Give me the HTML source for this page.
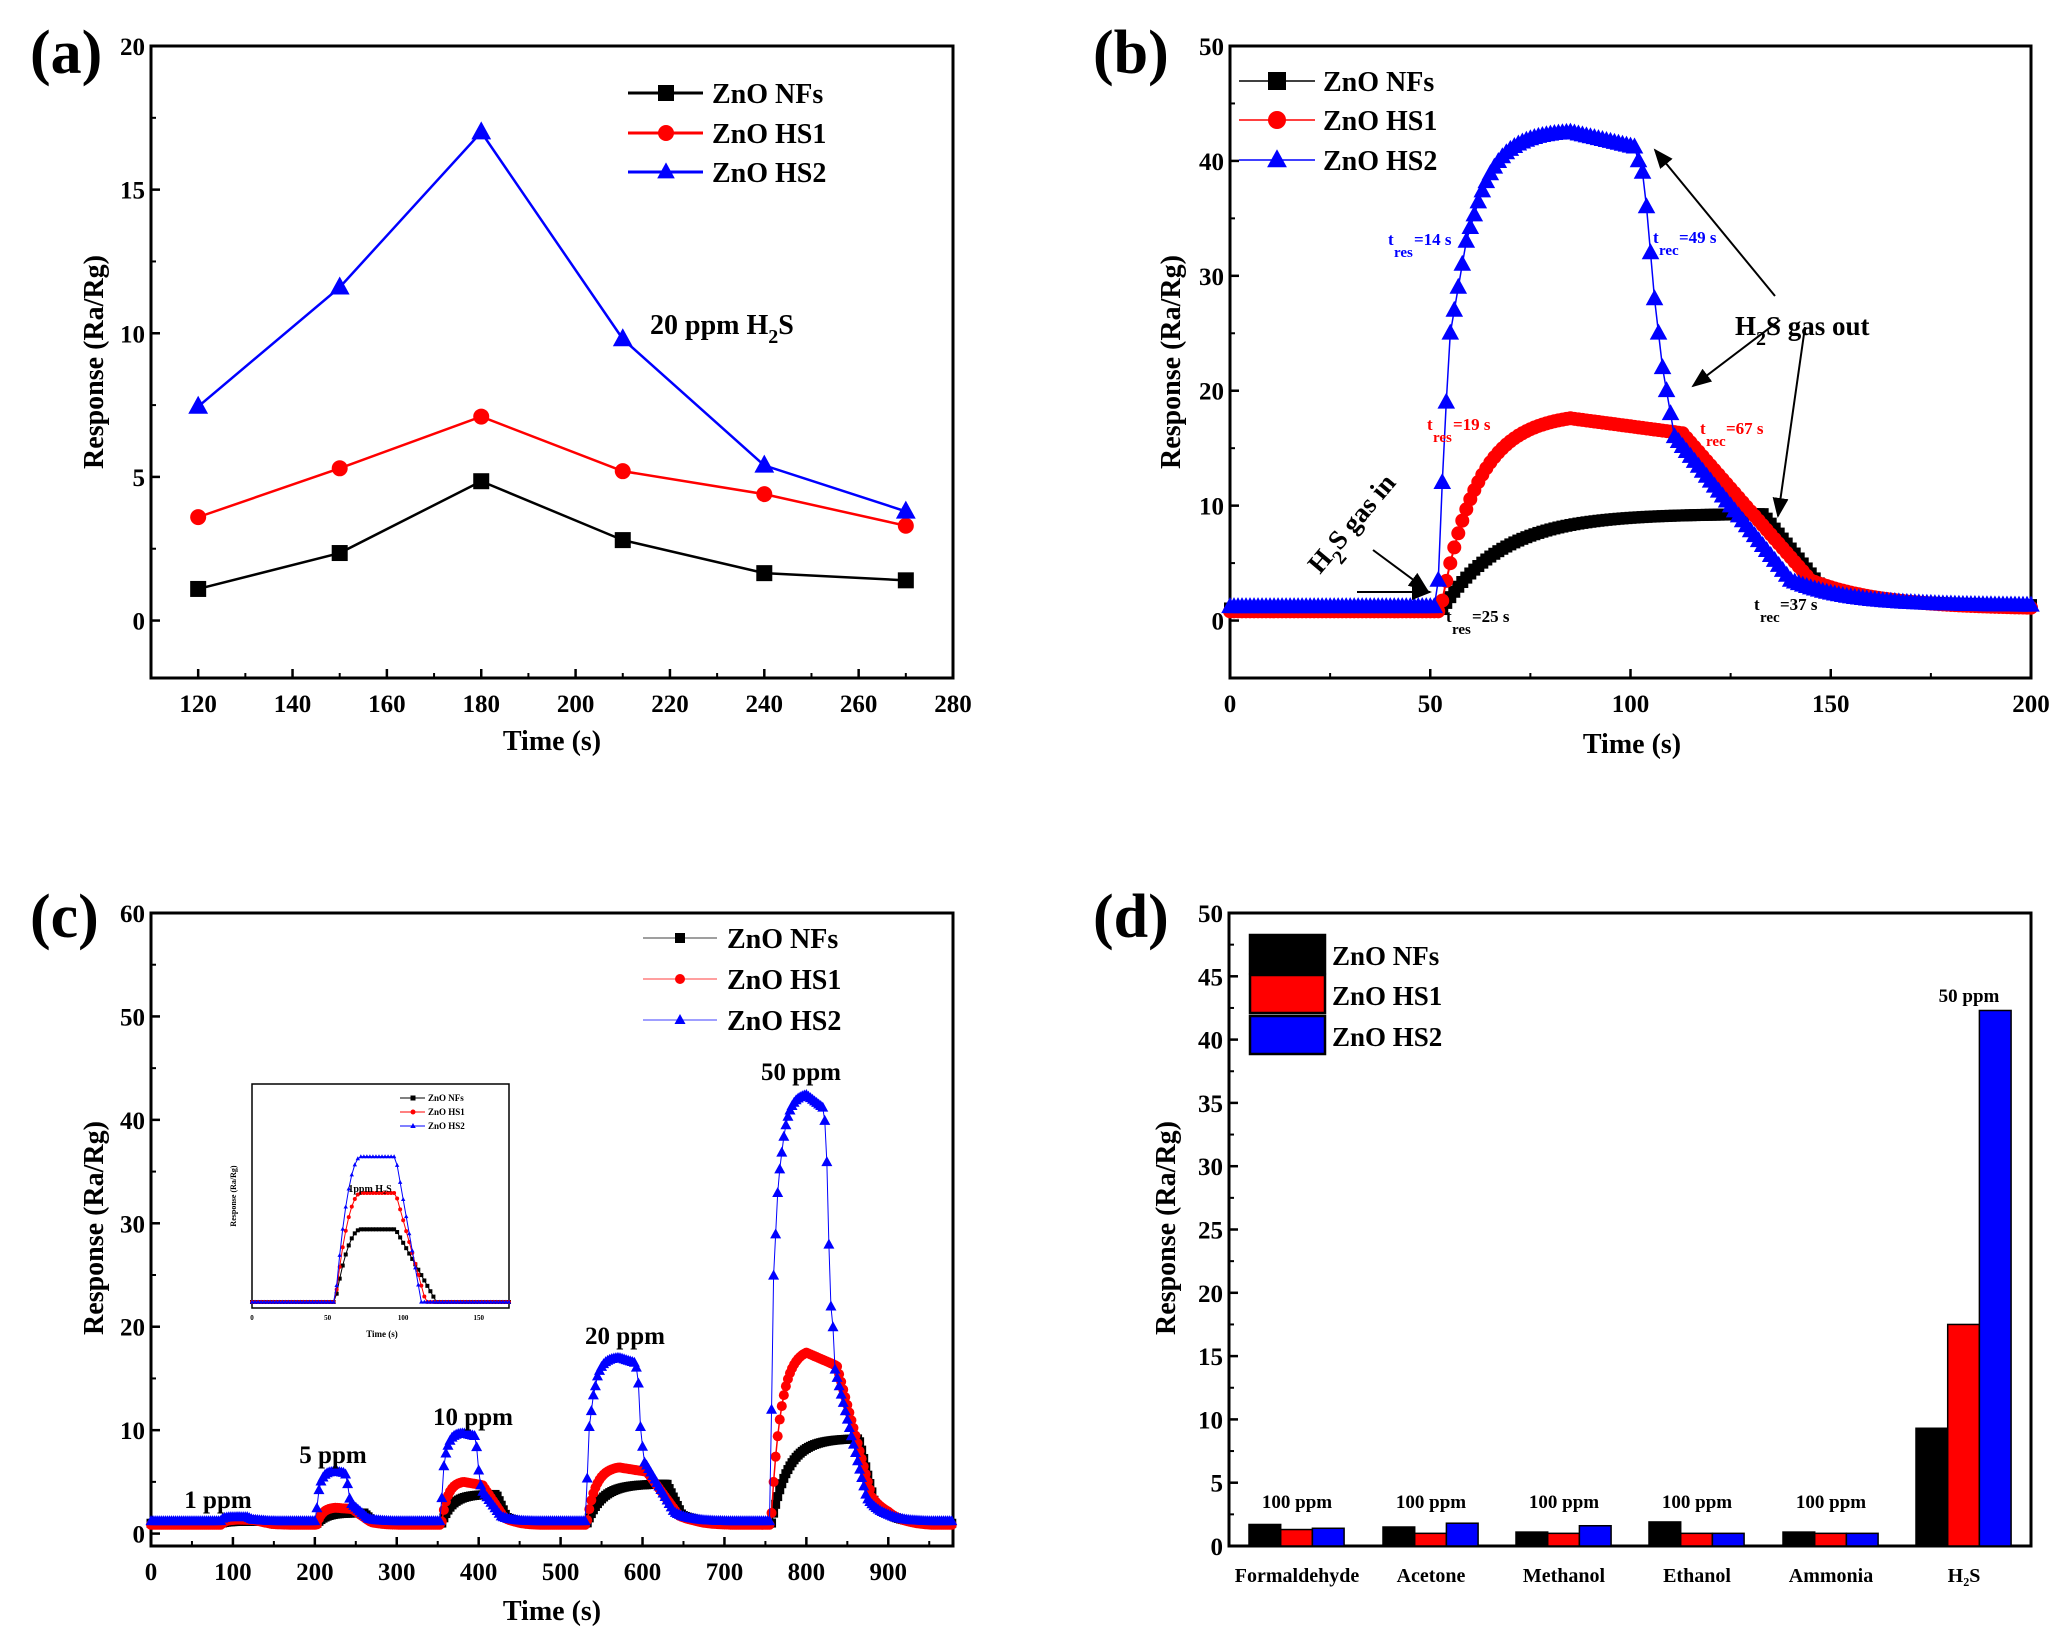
<!DOCTYPE html>
<html><head><meta charset="utf-8"><style>
html,body{margin:0;padding:0;background:#fff}
svg text{font-family:"Liberation Serif",serif;font-weight:bold}
</style></head><body>
<svg id="s" width="2064" height="1637" xmlns="http://www.w3.org/2000/svg"></svg>
<script>
var S=document.getElementById('s'),NS='http://www.w3.org/2000/svg';
function el(t,a,txt){var e=document.createElementNS(NS,t);for(var k in a)e.setAttribute(k,a[k]);if(txt!=null)e.textContent=txt;S.appendChild(e);return e;}
function T(x,y,s,size,anchor,fill,extra){var a={x:x,y:y,'font-size':size,'text-anchor':anchor||'start',fill:fill||'#000'};for(var k in extra)a[k]=extra[k];return el('text',a,s);}
function TH(x,y,html,size,anchor,fill,extra){var e=T(x,y,'',size,anchor,fill,extra);e.innerHTML=html;return e;}
function axes(L,R,Tp,B,x0,x1,y0,y1,xt,yt,xminor,yminor,xl){
 var sx=function(v){return L+(v-x0)/(x1-x0)*(R-L)},sy=function(v){return B-(v-y0)/(y1-y0)*(B-Tp)};
 el('rect',{x:L,y:Tp,width:R-L,height:B-Tp,fill:'none',stroke:'#000','stroke-width':3});
 xt.forEach(function(v){var x=sx(v);el('line',{x1:x,y1:B,x2:x,y2:B-9,stroke:'#000','stroke-width':2.5});T(x,B+34,xl?xl(v):v,25,'middle');});
 xminor.forEach(function(v){var x=sx(v);el('line',{x1:x,y1:B,x2:x,y2:B-5,stroke:'#000','stroke-width':2});});
 yt.forEach(function(v){var y=sy(v);el('line',{x1:L,y1:y,x2:L+9,y2:y,stroke:'#000','stroke-width':2.5});T(L-6,y+9,v,25,'end');});
 yminor.forEach(function(v){var y=sy(v);el('line',{x1:L,y1:y,x2:L+5,y2:y,stroke:'#000','stroke-width':2});});
 return [sx,sy];}
function rng(a,b,st){var r=[];for(var v=a;v<=b+1e-9;v+=st)r.push(+v.toFixed(4));return r;}
function mark(type,x,y,r,c){
 if(type=='s')el('rect',{x:x-r,y:y-r,width:2*r,height:2*r,fill:c});
 else if(type=='c')el('circle',{cx:x,cy:y,r:r,fill:c});
 else el('polygon',{points:(x)+','+(y-r*1.2)+' '+(x-r*1.1)+','+(y+r*0.8)+' '+(x+r*1.1)+','+(y+r*0.8),fill:c});}
function series(pts,sx,sy,c,type,r,lw){
 el('polyline',{points:pts.map(function(p){return sx(p[0])+','+sy(p[1])}).join(' '),fill:'none',stroke:c,'stroke-width':lw||2.5});
 pts.forEach(function(p){mark(type,sx(p[0]),sy(p[1]),r,c)});}
function ylab(x,y,s){T(x,y,s,28,'middle','#000',{transform:'rotate(-90 '+x+' '+y+')'});}

// ===== (a)
T(30,73,'(a)',62);
var A=axes(151,953,46,678,110,280,-2,20,rng(120,280,20),[0,5,10,15,20],rng(130,270,20),rng(2.5,17.5,5));
ylab(103,362,'Response (Ra/Rg)');T(552,750,'Time (s)',28,'middle');
var xs=[120,150,180,210,240,270];
series(xs.map(function(x,i){return[x,[1.1,2.35,4.85,2.8,1.65,1.4][i]]}),A[0],A[1],'#000','s',8);
series(xs.map(function(x,i){return[x,[3.6,5.3,7.1,5.2,4.4,3.3][i]]}),A[0],A[1],'#f00','c',8);
series(xs.map(function(x,i){return[x,[7.45,11.6,17.0,9.8,5.4,3.8][i]]}),A[0],A[1],'#00f','t',9);
[[93,'#000','s','ZnO NFs'],[133,'#f00','c','ZnO HS1'],[172,'#00f','t','ZnO HS2']].forEach(function(l){el('line',{x1:628,y1:l[0],x2:703,y2:l[0],stroke:l[1],'stroke-width':3});mark(l[2],666,l[0],8,l[1]);T(712,l[0]+10,l[3],28);});
TH(650,334,'20 ppm H<tspan dy="9" font-size="20">2</tspan><tspan dy="-9">S</tspan>',28);

// ===== (b) data
function nf(t){if(t<53)return 1.05;if(t<=133)return 1+8.3*(1-Math.exp(-(t-53)/15));if(t<=148)return 9.3-(t-133)/15*6.5;return 1.3+1.5*Math.exp(-(t-148)/15);}
function h1(t){if(t<52.5)return 0.8;if(t<=85)return 0.8+16.8*(1-Math.exp(-(t-52.5)/9))/(1-Math.exp(-32.5/9));if(t<=113)return 17.6-(t-85)/28*1.3;if(t<=145)return 16.3-(t-113)/32*12.8;return 1.0+2.5*Math.exp(-(t-145)/18);}
function h2(t){if(t<52)return 1.2;var up=[3.5,12,19,25,27,29,31,33,34.2,35.3];if(t<62)return up[Math.round(t)-52];
 if(t<=85)return 35.3+7.2*(1-Math.exp(-(t-61)/6))/(1-Math.exp(-24/6));if(t<=101)return 42.5-(t-85)/16*1.3;
 var dn=[41.2,40,39,36,32,28,25,22,20,18,16];if(t<=111)return dn[Math.round(t)-101];if(t<=140)return 16-(t-111)/29*12.5;return 1.3+2.2*Math.exp(-(t-140)/14);}
var B=axes(1230,2031,46,678,0,200,-5,50,[0,50,100,150,200],[0,10,20,30,40,50],[25,75,125,175],[-5,5,15,25,35,45]);
ylab(1180,362,'Response (Ra/Rg)');T(1632,753,'Time (s)',28,'middle');
T(1093,73,'(b)',62);
var p0=[],p1=[],p2=[];for(var t=0;t<=200;t+=1){p0.push([t,nf(t)]);p1.push([t,h1(t)]);p2.push([t,h2(t)]);}
series(p0,B[0],B[1],'#000','s',6,2);series(p1,B[0],B[1],'#f00','c',7,2);series(p2,B[0],B[1],'#00f','t',8,1.5);
[[81,'#000','s','ZnO NFs'],[120,'#f00','c','ZnO HS1'],[160,'#00f','t','ZnO HS2']].forEach(function(l){el('line',{x1:1239,y1:l[0],x2:1315,y2:l[0],stroke:l[1],'stroke-width':1.5});mark(l[2],1277,l[0],9,l[1]);T(1323,l[0]+10,l[3],28);});
function sub(x,y,a,b,c,col){T(x,y,a,17,'start',col);T(x+6,y+12,b,15,'start',col);T(x+26,y,c,17,'start',col);}
sub(1388,245,'t','res','=14 s','#00f');sub(1653,243,'t','rec','=49 s','#00f');
sub(1427,430,'t','res','=19 s','#f00');sub(1700,434,'t','rec','=67 s','#f00');
sub(1446,622,'t','res','=25 s','#000');sub(1754,610,'t','rec','=37 s','#000');
TH(1735,335,'H<tspan dy="10" font-size="20">2</tspan><tspan dy="-10">S gas out</tspan>',27);
TH(1320,575,'H<tspan dy="10" font-size="20">2</tspan><tspan dy="-10">S gas in</tspan>',27,'start','#000',{transform:'rotate(-50 1320 575)'});
el('defs',{}).innerHTML='<marker id="ar" markerWidth="10" markerHeight="8" refX="9" refY="4" orient="auto"><path d="M0,0L10,4L0,8z" fill="#000"/></marker>';
[[1775,296,1655,150],[1780,320,1693,386],[1805,327,1778,516],[1373,550,1427,590],[1357,592,1430,592]].forEach(function(a){el('line',{x1:a[0],y1:a[1],x2:a[2],y2:a[3],stroke:'#000','stroke-width':2,'marker-end':'url(#ar)'});});

// ===== (c)
T(30,937,'(c)',62);
var C=axes(151,953,913,1546,0,979,-1.2,60,rng(0,900,100),[0,10,20,30,40,50,60],rng(50,950,100),rng(5,55,10));
ylab(103,1228,'Response (Ra/Rg)');T(552,1620,'Time (s)',28,'middle');
var fns=[nf,h1,h2],pkb=[9.3,17.6,42.5],bb=[1.05,0.8,1.2];
var ev=[[85,1.5,[1.2,1.35,1.6]],[202,1.4,[2.0,2.5,6.0]],[354,1.2,[3.8,5.0,9.7]],[531,0.82,[4.8,6.4,17]],[756,0.75,[9.2,17.5,42.4]]];
function cv(k,t){var base=[1.0,0.85,1.2][k];for(var i=0;i<ev.length;i++){var a=ev[i][0],kk=ev[i][1],pk=ev[i][2][k];var tb=52+(t-a)*kk;if(tb>=52&&tb<=200){var f=fns[k](tb);var r=(f-bb[k])/(pkb[k]-bb[k]);if(tb>160)r=Math.max(0,r*(200-tb)/40);return base+(pk-base)*Math.max(0,r);}}return base;}
var q=[[],[],[]];for(var t=0;t<=979;t+=2.5){for(var k=0;k<3;k++)q[k].push([t,cv(k,t)]);}
series(q[0],C[0],C[1],'#000','s',4.5,1.5);series(q[1],C[0],C[1],'#f00','c',5,1.5);series(q[2],C[0],C[1],'#00f','t',5,1);
[[938,'#000','s','ZnO NFs'],[979,'#f00','c','ZnO HS1'],[1020,'#00f','t','ZnO HS2']].forEach(function(l){el('line',{x1:643,y1:l[0],x2:717,y2:l[0],stroke:l[1],'stroke-width':1.2,opacity:0.6});mark(l[2],680,l[0],5,l[1]);T(727,l[0]+10,l[3],28);});
[['1 ppm',218,1508],['5 ppm',333,1463],['10 ppm',473,1425],['20 ppm',625,1344],['50 ppm',801,1080]].forEach(function(l){T(l[1],l[2],l[0],25,'middle');});
// inset
el('rect',{x:252,y:1084,width:257,height:224,fill:'#fff',stroke:'#000','stroke-width':1.5});
function ix(t){return 252+t/170*257}function iy(v){return 1302-(v-1.0)/0.6*218}
var ins=[[1.2,'#000','s',122],[1.3,'#f00','c',115],[1.4,'#00f','t',112]];
ins.forEach(function(s){var pts=[];for(var t=0;t<=170;t+=2){var v=1.0;if(t>55&&t<72)v=1+(s[0]-1)*(1-Math.pow(1-(t-55)/17,2));else if(t>=72&&t<=95)v=s[0];else if(t>95&&t<s[3])v=s[0]-(s[0]-1)*(t-95)/(s[3]-95);pts.push([t,v]);}
 el('polyline',{points:pts.map(function(p){return ix(p[0])+','+iy(p[1])}).join(' '),fill:'none',stroke:s[1],'stroke-width':1});pts.forEach(function(p){mark(s[2],ix(p[0]),iy(p[1]),2,s[1]);});});
[[1098,'ZnO NFs','#000','s'],[1112,'ZnO HS1','#f00','c'],[1126,'ZnO HS2','#00f','t']].forEach(function(l){el('line',{x1:400,y1:l[0],x2:425,y2:l[0],stroke:l[2],'stroke-width':1});mark(l[3],413,l[0],2.5,l[2]);T(428,l[0]+3,l[1],9);});
T(370,1192,'1ppm H₂S',10,'middle');T(382,1337,'Time (s)',9,'middle');T(236,1196,'Response (Ra/Rg)',8,'middle','#000',{transform:'rotate(-90 236 1196)'});
[0,50,100,150].forEach(function(v){T(ix(v),1320,v,7,'middle');});

// ===== (d)
T(1093,937,'(d)',62);
var D=axes(1229,2031,913,1546,0,1,0,50,[],rng(0,50,5),[],rng(2.5,47.5,5));
ylab(1175,1228,'Response (Ra/Rg)');
var st=[1249,1383,1516,1649,1783,1916],vals=[[1.7,1.3,1.4],[1.5,1.0,1.8],[1.1,1.0,1.6],[1.9,1.0,1.0],[1.1,1.0,1.0],[9.3,17.5,42.3]],cols=['#000','#f00','#00f'];
var names=['Formaldehyde','Acetone','Methanol','Ethanol','Ammonia','H₂S'];
st.forEach(function(x,i){vals[i].forEach(function(v,k){var y=1546-v*12.66;el('rect',{x:x+k*31.7,y:y,width:31.7,height:1546-y,fill:cols[k],stroke:'#000','stroke-width':1.5});});
 T(x+48,1582,names[i],20,'middle');if(i<5)T(x+48,1508,'100 ppm',19,'middle');});
T(1969,1002,'50 ppm',19,'middle');
[[935,'#000','ZnO NFs'],[975,'#f00','ZnO HS1'],[1016,'#00f','ZnO HS2']].forEach(function(l){el('rect',{x:1250,y:l[0],width:75,height:38,fill:l[1],stroke:'#000','stroke-width':2.5});T(1332,l[0]+30,l[2],27);});
</script>
</body></html>
